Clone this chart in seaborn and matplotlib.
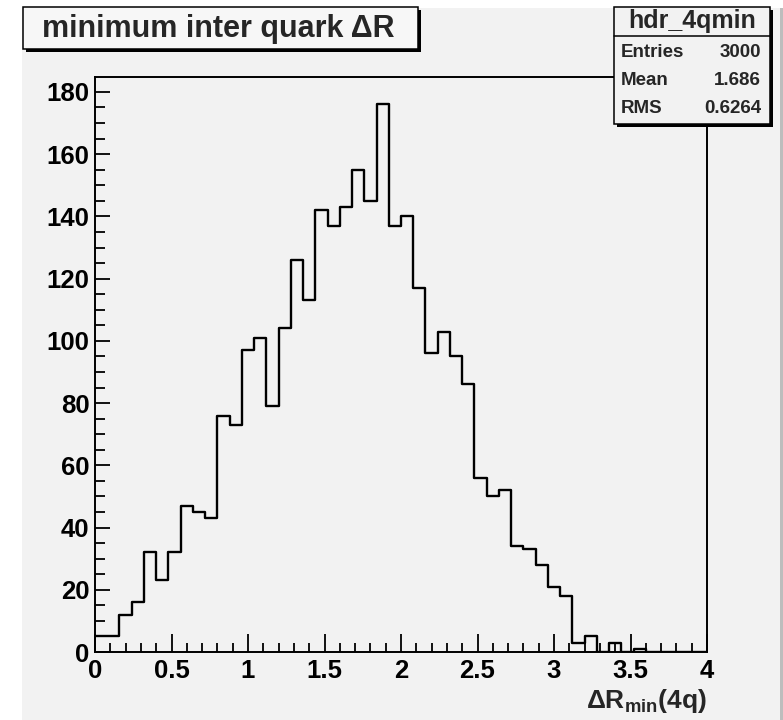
import numpy as np
import pandas as pd
import seaborn as sns
import matplotlib.pyplot as plt
from matplotlib.patches import Rectangle

# histogram hdr_4qmin: 50 bins on [0, 4]
n_bins = 50
x_range = (0.0, 4.0)
counts = [5, 5, 12, 16, 32, 23, 32, 47, 45, 43,
          76, 73, 97, 101, 79, 104, 126, 113, 142, 137,
          143, 155, 145, 176, 137, 140, 117, 96, 103, 95,
          86, 56, 50, 52, 34, 33, 28, 21, 18, 3,
          5, 0, 3, 0, 1, 0, 0, 0, 0, 0]

title = "minimum inter quark \u0394R"
hist_name = "hdr_4qmin"
stat_names = ["Entries", "Mean", "RMS"]
stat_values = ["3000", "1.686", "0.6264"]

W, H = 783, 720


def fx(x):
    return x / W


def fy(y):
    return 1 - y / H


sns.set_style("ticks")
plt.rcParams['font.family'] = ['Liberation Sans', 'DejaVu Sans']
plt.rcParams['font.weight'] = 'bold'
plt.rcParams['mathtext.fontset'] = 'custom'
plt.rcParams['mathtext.rm'] = 'Liberation Sans:bold'
plt.rcParams['mathtext.bf'] = 'Liberation Sans:bold'
plt.rcParams['mathtext.default'] = 'rm'

width = (x_range[1] - x_range[0]) / n_bins
df = pd.DataFrame({
    "dr": x_range[0] + width * (np.arange(n_bins) + 0.5),
    "n": counts,
})

fig = plt.figure(figsize=(W / 100, H / 100), dpi=100)
fig.patch.set_facecolor('white')

# grey pad behind the frame
pad_bg = '#f2f2f2'
fig.add_artist(Rectangle((fx(22), 0), fx(780) - fx(22), fy(8), transform=fig.transFigure,
                         facecolor=pad_bg, edgecolor='none', zorder=-10))
fig.add_artist(Rectangle((fx(780), 0), fx(783) - fx(780), fy(8), transform=fig.transFigure,
                         facecolor='#bdbdbd', edgecolor='none', zorder=-10))

ax = fig.add_axes([fx(95), fy(652), fx(707) - fx(95), fy(77) - fy(652)])
ax.set_facecolor(pad_bg)

sns.histplot(data=df, x="dr", weights="n", bins=n_bins, binrange=x_range,
             element='step', fill=False, color='black', linewidth=1.7, ax=ax)

ax.set_xlim(*x_range)
ax.set_ylim(0, max(counts) * 1.05)
ax.set_xticks(np.arange(0, 4.01, 0.5))
ax.set_xticks(np.arange(0, 4.01, 0.1), minor=True)
ax.set_yticks(np.arange(0, 181, 20))
ax.set_yticks(np.arange(0, 181, 5), minor=True)
ax.set_xticklabels(["0", "0.5", "1", "1.5", "2", "2.5", "3", "3.5", "4"])
ax.tick_params(axis='both', which='both', direction='in', colors='black',
               labelsize=18.5, width=1.3)
ax.tick_params(axis='x', which='major', length=13, pad=5)
ax.tick_params(axis='x', which='minor', length=6.5)
ax.tick_params(axis='y', which='major', length=11, pad=4)
ax.tick_params(axis='y', which='minor', length=7)
for sp in ax.spines.values():
    sp.set_visible(True)
    sp.set_linewidth(1.4)
    sp.set_color('black')

ax.set_ylabel("")
ax.set_xlabel("\u0394R$_{min}$(4q)", loc='right', fontsize=19, fontweight='bold', labelpad=3)

# title box
fig.add_artist(Rectangle((fx(26), fy(52)), fx(421) - fx(26), fy(10) - fy(52), transform=fig.transFigure,
                         facecolor='black', edgecolor='none', zorder=5))
fig.add_artist(Rectangle((fx(23), fy(49)), fx(418) - fx(23), fy(7) - fy(49), transform=fig.transFigure,
                         facecolor='#f7f7f7', edgecolor='black', linewidth=1.1, zorder=6))
fig.text(fx(42), fy(29), title, fontsize=22, fontweight='bold', ha='left', va='center', zorder=7)

# stats box
fig.add_artist(Rectangle((fx(617), fy(127)), fx(773) - fx(617), fy(10) - fy(127), transform=fig.transFigure,
                         facecolor='black', edgecolor='none', zorder=5))
fig.add_artist(Rectangle((fx(614), fy(124)), fx(770) - fx(614), fy(7) - fy(124), transform=fig.transFigure,
                         facecolor=pad_bg, edgecolor='black', linewidth=1.1, zorder=6))
fig.add_artist(plt.Line2D([fx(614), fx(770)], [fy(36), fy(36)], transform=fig.transFigure,
                          color='black', linewidth=1.1, zorder=7))
fig.text(fx(692), fy(21), hist_name, fontsize=18, fontweight='bold', ha='center', va='center', zorder=7)
for i, (name, val) in enumerate(zip(stat_names, stat_values)):
    yy = fy(52.5 + i * 28)
    fig.text(fx(621), yy, name, fontsize=13.5, fontweight='bold', ha='left', va='center', zorder=7)
    fig.text(fx(761), yy, val, fontsize=13.5, fontweight='bold', ha='right', va='center', zorder=7)

fig.savefig('out.png', dpi=100)
